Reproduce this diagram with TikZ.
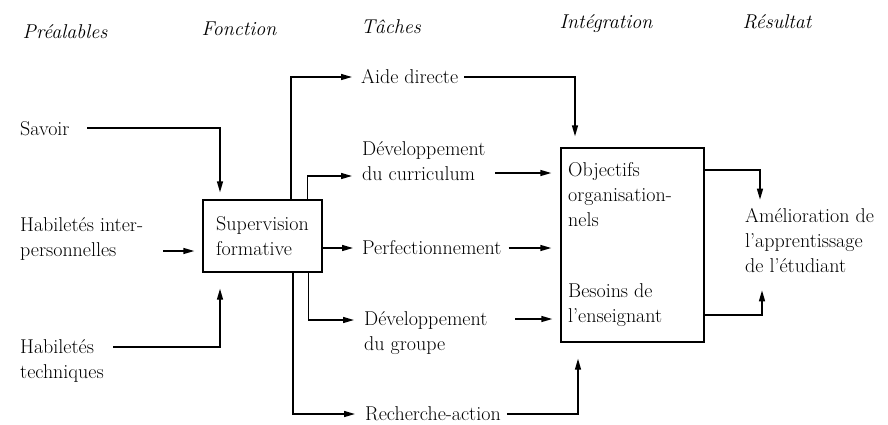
\documentclass[tikz,border=0pt]{standalone}
\usetikzlibrary{arrows.meta,calc}
\begin{document}
\begin{tikzpicture}[x=1pt,y=-1pt,
  font=\fontsize{20}{25}\selectfont,
  lbl/.style={inner sep=0pt, anchor=west, align=left},
  hdr/.style={inner sep=0pt, font=\fontsize{20}{25}\selectfont\itshape},
  arr/.style={-{Triangle[length=11pt,width=6pt]}, line width=1.4pt},
  box/.style={draw, line width=1.4pt, inner sep=0pt}]
\useasboundingbox (0,0) rectangle (888,424);

% headers
\node[hdr] (h1) at (65,32) {Préalables};
\node[hdr] (h2) at (239,29) {Fonction};
\node[hdr] (h3) at (391,27) {Tâches};
\node[hdr] (h4) at (606,24) {Intégration};
\node[hdr] (h5) at (777,22) {Résultat};

% prerequisites
\node[lbl] (savoir) at (20,129) {Savoir};
\node[lbl] (inter) at (20,239) {Habiletés inter-\\personnelles};
\node[lbl] (tech) at (20,361) {Habiletés\\techniques};

% function
\node[box, minimum width=119, minimum height=72, align=left] (sup) at (262.5,236) {Supervision\\formative};

% tasks
\node[lbl] (aide) at (361,77) {Aide directe};
\node[lbl] (curr) at (362,161) {Développement\\du curriculum};
\node[lbl] (perf) at (362,248) {Perfectionnement};
\node[lbl] (grp) at (364,333) {Développement\\du groupe};
\node[lbl] (rech) at (365,414) {Recherche-action};

% integration
\node[box, minimum width=143, minimum height=194] (integ) at (632.5,245) {};
\node[lbl] (obj) at (568,195) {Objectifs\\organisation-\\nels};
\node[lbl] (bes) at (568,305) {Besoins de\\l'enseignant};

% result
\node[lbl] (amel) at (745,241) {Amélioration de\\l'apprentissage\\de l'étudiant};

% helper coordinates for line ends
\coordinate (savS) at (87,128);
\coordinate (interS) at (163,251);
\coordinate (techS) at (113,347);
\coordinate (currIn) at (352,176);
\coordinate (currOut) at (495,173);
\coordinate (grpIn) at (354,320);
\coordinate (grpOut) at (515,319);

% inputs to supervision
\draw[arr] (savS) -| ([xshift=-42.5pt,yshift=7pt]sup.north);
\draw[arr] (interS) -- ([xshift=-8pt]interS -| sup.west);
\draw[arr] (techS) -| ([xshift=-42.5pt,yshift=-16pt]sup.south);

% supervision to tasks
\draw[arr] ([xshift=28.5pt]sup.north) |- ([xshift=-9pt]aide.west);
\draw[arr] ([xshift=45pt]sup.north) |- (currIn);
\draw[arr] (sup.east |- perf.west) -- ([xshift=-9pt]perf.west);
\draw[arr] ([xshift=46pt]sup.south) |- (grpIn);
\draw[arr] ([xshift=30.5pt]sup.south) |- ([xshift=-10pt]rech.west);

% tasks to integration
\draw[arr] ([xshift=6pt]aide.east) -| ([xshift=-57.5pt,yshift=11pt]integ.north);
\draw[arr] (currOut) -- ([xshift=-9pt]currOut -| integ.west);
\draw[arr] ([xshift=7pt]perf.east) -- ([xshift=-9pt]perf.east -| integ.west);
\draw[arr] (grpOut) -- ([xshift=-8pt]grpOut -| integ.west);
\draw[arr] ([xshift=6pt]rech.east) -| ([xshift=-54.5pt,yshift=-16pt]integ.south);

% integration to result
\draw[arr] ([yshift=75pt]integ.east) -| ([xshift=15pt,yshift=9pt]amel.north west);
\draw[arr] ([yshift=-70pt]integ.east) -| ([xshift=17pt,yshift=-17pt]amel.south west);
\end{tikzpicture}
\end{document}
